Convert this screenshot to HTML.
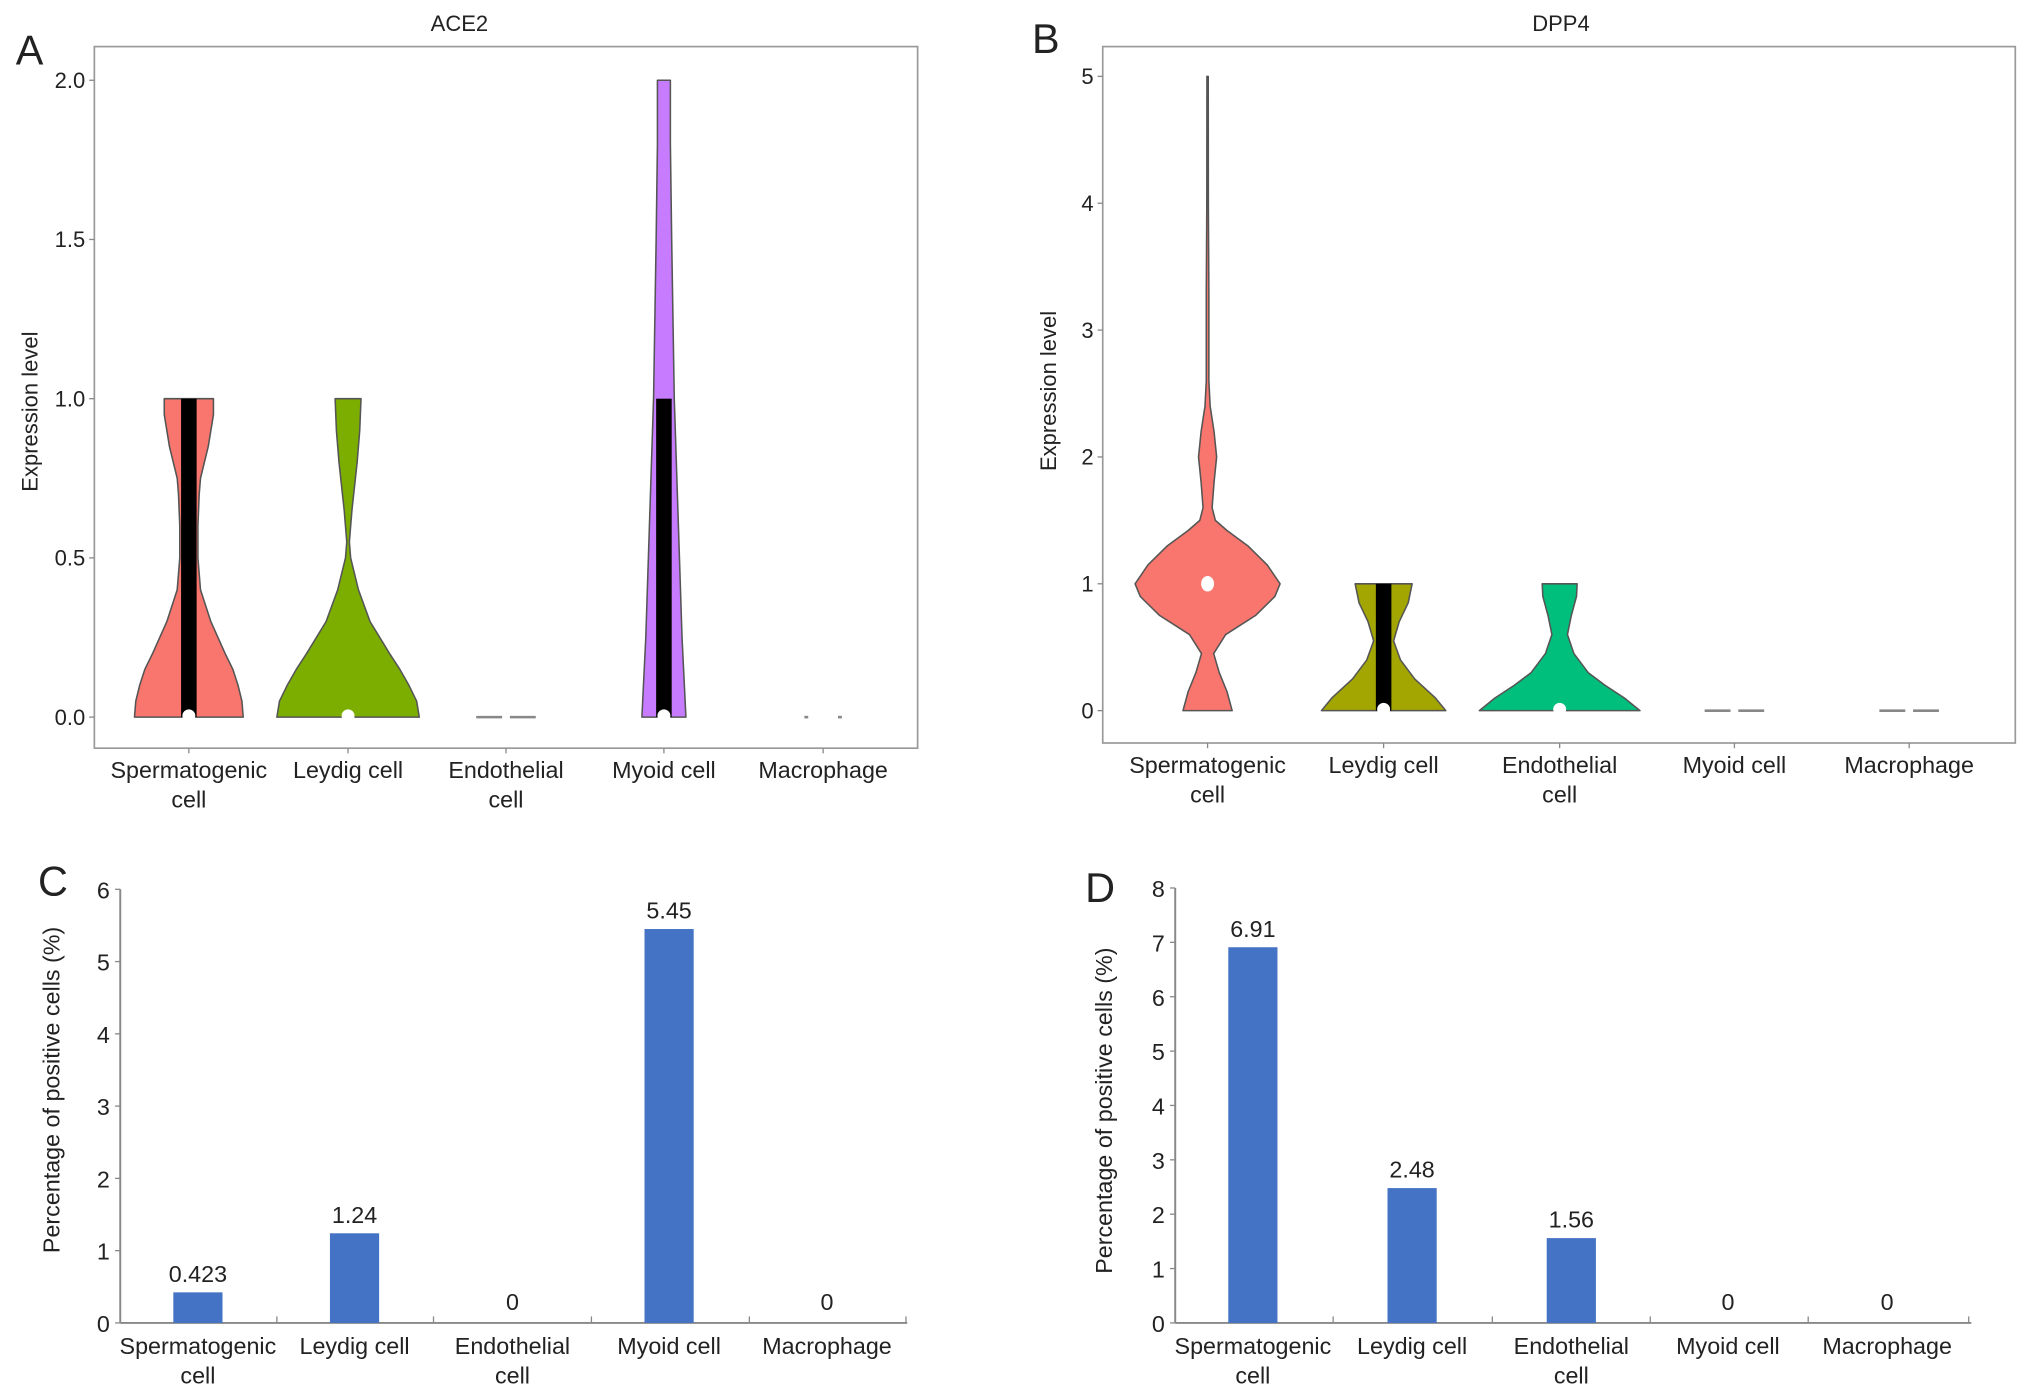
<!DOCTYPE html>
<html><head><meta charset="utf-8"><style>
html,body{margin:0;padding:0;background:#fff}
svg{display:block}
text{font-family:"Liberation Sans",Arial,sans-serif;fill:#222}
</style></head><body>
<svg id="fig" width="2032" height="1398" viewBox="0 0 1568 1080" xmlns="http://www.w3.org/2000/svg">
<rect x="0" y="0" width="1568" height="1080" fill="#fff"/>
<g id="gA"></g>
<g id="gB"></g>
<g id="gC"></g>
<g id="gD"></g>
</svg>
<script>
const categories = ["Spermatogenic\ncell","Leydig cell","Endothelial\ncell","Myoid cell","Macrophage"];
// violin density profiles: [expression value, half-width]
const aceSperm = [[0,42],[0.05,41],[0.1,38],[0.15,34],[0.2,28],[0.3,17],[0.4,9],[0.5,7],[0.6,7],[0.7,8],[0.75,9],[0.85,15],[0.95,19],[1,19]];
const aceLeydig = [[0,55],[0.05,53],[0.1,47],[0.15,40],[0.2,32],[0.3,17],[0.4,8],[0.5,2],[0.55,1],[0.65,3],[0.8,7],[0.9,9],[1,10]];
const aceMyoid = [[0,17],[0.25,14],[0.5,12],[1,8],[1.5,6],[1.8,5],[2,5]];
const aceViolins = [aceSperm, aceLeydig, null, aceMyoid, null];
const aceBoxes = [[0,1],null,null,[0,1],null];
const aceMedianDot = [0,0,null,0,null];
const aceDashes = [false,false,true,false,"dots"];
const aceColors = ["#F8766D","#7CAE00",null,"#C77CFF",null];
const aceTicks = ["0.0","0.5","1.0","1.5","2.0"];
const aceTickVals = [0,0.5,1,1.5,2];

const dppSperm = [[0,19],[0.15,15],[0.3,9],[0.45,4.7],[0.6,14],[0.75,37],[0.9,52],[1,56],[1.15,46],[1.3,31],[1.42,15],[1.5,6],[1.6,3.5],[1.8,5],[2,7],[2.2,5],[2.4,2],[2.6,1],[3,1],[3.3,1],[4,0.6],[5,0.5]];
const dppLeydig = [[0,48],[0.1,40],[0.25,24],[0.4,13],[0.55,7.7],[0.7,12],[0.85,19],[1,22]];
const dppEndo = [[0,62],[0.1,50],[0.2,35],[0.3,22],[0.45,11],[0.6,6],[0.75,9],[0.9,13],[1,13.5]];
const dppViolins = [dppSperm, dppLeydig, dppEndo, null, null];
const dppBoxes = [null,[0,1],null,null,null];
const dppMedianDot = [1,0,0,null,null];
const dppDashes = [false,false,false,true,true];
const dppColors = ["#F8766D","#A3A500","#00BF7D",null,null];
const dppTicks = ["0","1","2","3","4","5"];
const dppTickVals = [0,1,2,3,4,5];

const acePct = [0.423,1.24,0,5.45,0];
const acePctLabels = ["0.423","1.24","0","5.45","0"];
const aceBarTicks = [0,1,2,3,4,5,6];
const dppPct = [6.91,2.48,1.56,0,0];
const dppPctLabels = ["6.91","2.48","1.56","0","0"];
const dppBarTicks = [0,1,2,3,4,5,6,7,8];

const NS="http://www.w3.org/2000/svg";
function mk(tag, attrs, parent){const e=document.createElementNS(NS,tag);for(const k in attrs)e.setAttribute(k,attrs[k]);parent.appendChild(e);return e;}
function txt(parent,x,y,s,size,anchor,extra){const t=mk("text",Object.assign({x:x,y:y,"font-size":size,"text-anchor":anchor||"middle"},extra||{}),parent);t.textContent=s;return t;}
function catLabel(g,x,y,label,size){
  const lines=label.split("\n");
  lines.forEach((l,i)=>{const t=txt(g,x,y+i*23,l,size,"middle");
    
    });
}

function violinPanel(g,cfg){
  const {L,R,T,B,y0,yTop,vmax,cx,title,titleX,letter,lx,ly,ticks,tickVals,violins,boxes,dots,dashes,colors,ytitleX,ytitleY}=cfg;
  const ys=v=>y0-(y0-yTop)*v/vmax;
  const frame=mk("rect",{x:L,y:T,width:R-L,height:B-T,fill:"none",stroke:"#999","stroke-width":1.3},g);
  
  
  const tt=txt(g,titleX,24,title,17,"middle");
  
  
  const pl=txt(g,lx,ly,letter,32,"middle");
  
  
  tickVals.forEach((v,i)=>{
    const y=ys(v);
    mk("line",{x1:L-4,x2:L,y1:y,y2:y,stroke:"#888","stroke-width":1},g);
    const t=txt(g,L-7,y+6,ticks[i],17,"end");
    
    
  });
  const yt=txt(g,ytitleX,ytitleY,"Expression level",17,"middle",{transform:`rotate(-90 ${ytitleX} ${ytitleY})`});
  
  
  categories.forEach((c,i)=>{
    const x=cx[i];
    mk("line",{x1:x,x2:x,y1:B,y2:B+4,stroke:"#888","stroke-width":1},g);
    catLabel(g,x,B+23,c,18);
    if(violins[i]){
      const prof=violins[i];
      let d="";
      prof.forEach((p,j)=>{d+=(j?"L":"M")+(x+p[1])+","+ys(p[0]);});
      for(let j=prof.length-1;j>=0;j--){d+="L"+(x-prof[j][1])+","+ys(prof[j][0]);}
      d+="Z";
      const v=mk("path",{d:d,fill:colors[i],stroke:"#555","stroke-width":1.2,"stroke-linejoin":"round"},g);
      
      
    }
    if(boxes[i]){
      const b=mk("rect",{x:x-6,y:ys(boxes[i][1]),width:12,height:ys(boxes[i][0])-ys(boxes[i][1]),fill:"#000"},g);
      
      
    }
    if(dots[i]!==null && dots[i]!==undefined){
      const yy=ys(dots[i]);
      const isBottom=dots[i]===0;
      const dot=mk("ellipse",{cx:x,cy:isBottom?yy-1:yy,rx:5,ry:isBottom?5:6,fill:"#fff"},g);
      
      
    }
    if(dashes[i]){
      const dw = dashes[i]==="dots"?1.5:10;
      [-13,13].forEach(o=>{
        const ln=mk("line",{x1:x+o-dw,x2:x+o+dw,y1:ys(0),y2:ys(0),stroke:"#888","stroke-width":2},g);
        
        
      });
    }
  });
}

violinPanel(document.getElementById("gA"),{L:72,R:708,T:36,B:578,y0:554,yTop:62,vmax:2,cx:[145,268,390,512,635],
  title:"ACE2",titleX:354,letter:"A",lx:22,ly:50,ticks:aceTicks,tickVals:aceTickVals,violins:aceViolins,boxes:aceBoxes,dots:aceMedianDot,
  dashes:aceDashes,colors:aceColors,ytitleX:28,ytitleY:318});
violinPanel(document.getElementById("gB"),{L:851,R:1556,T:36,B:574,y0:549,yTop:59,vmax:5,cx:[932,1068,1204,1339,1474],
  title:"DPP4",titleX:1205,letter:"B",lx:807,ly:41,ticks:dppTicks,tickVals:dppTickVals,violins:dppViolins,boxes:dppBoxes,dots:dppMedianDot,
  dashes:dppDashes,colors:dppColors,ytitleX:815,ytitleY:302});

function barPanel(g,cfg){
  const {L,R,T,B,vmax,cx,div,vals,labels,ticks,letter,lx,ly,ytX,ytY}=cfg;
  const ys=v=>B-(B-T)*v/vmax;
  const ax=mk("line",{x1:L,x2:L,y1:T,y2:B,stroke:"#888","stroke-width":1.5},g);
  
  
  const xa=mk("line",{x1:L,x2:R,y1:B,y2:B,stroke:"#888","stroke-width":1.5},g);
  
  
  ticks.forEach(v=>{
    const y=ys(v);
    mk("line",{x1:L-4,x2:L,y1:y,y2:y,stroke:"#888","stroke-width":1},g);
    const t=txt(g,L-8,y+7,String(v),18,"end");
    
    
  });
  div.forEach(x=>mk("line",{x1:x,x2:x,y1:B-5,y2:B,stroke:"#888","stroke-width":1},g));
  const pl=txt(g,lx,ly,letter,32,"middle");
  
  
  const yt=txt(g,ytX,ytY,"Percentage of positive cells (%)",18,"middle",{transform:`rotate(-90 ${ytX} ${ytY})`});
  
  
  categories.forEach((c,i)=>{
    const x=cx[i];
    if(vals[i]>0){
      const r=mk("rect",{x:x-19,y:ys(vals[i]),width:38,height:B-ys(vals[i]),fill:"#4472C4"},g);
      
      
    }
    const vl=txt(g,x,ys(vals[i])-(vals[i]>0?8:10),labels[i],18,"middle");
    
    
    catLabel(g,x,B+24,c,18);
  });
}
barPanel(document.getElementById("gC"),{L:92,R:700,T:687,B:1022,vmax:6,cx:[152,273,395,516,638],div:[213,334,456,578,699],
  vals:acePct,labels:acePctLabels,ticks:aceBarTicks,letter:"C",lx:40,ly:692,ytX:45,ytY:842});
barPanel(document.getElementById("gD"),{L:907,R:1522,T:686,B:1022,vmax:8,cx:[967,1090,1213,1334,1457],div:[1029,1152,1274,1396,1520],
  vals:dppPct,labels:dppPctLabels,ticks:dppBarTicks,letter:"D",lx:849,ly:697,ytX:858,ytY:858});
</script>
</body></html>
